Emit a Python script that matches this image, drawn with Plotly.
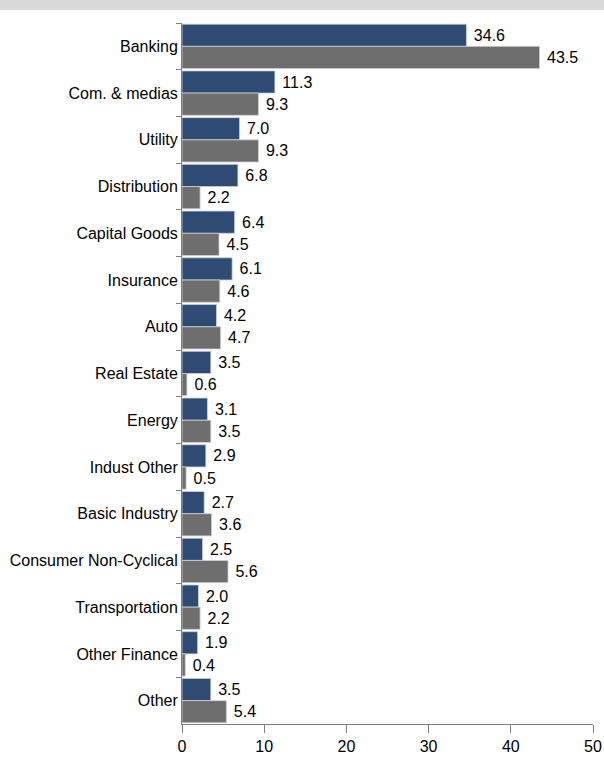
import plotly.graph_objects as go

categories = ["Banking", "Com. & medias", "Utility", "Distribution", "Capital Goods",
              "Insurance", "Auto", "Real Estate", "Energy", "Indust Other",
              "Basic Industry", "Consumer Non-Cyclical", "Transportation",
              "Other Finance", "Other"]
series_a = [34.6, 11.3, 7.0, 6.8, 6.4, 6.1, 4.2, 3.5, 3.1, 2.9, 2.7, 2.5, 2.0, 1.9, 3.5]
series_b = [43.5, 9.3, 9.3, 2.2, 4.5, 4.6, 4.7, 0.6, 3.5, 0.5, 3.6, 5.6, 2.2, 0.4, 5.4]
x_ticks = [0, 10, 20, 30, 40, 50]

font = dict(family="Liberation Sans, Arial, sans-serif", size=16, color="#000000")

fig = go.Figure()
fig.add_trace(go.Bar(
  y=categories, x=series_a, orientation="h",
  marker=dict(color="#2f4b73", line=dict(color="#c8d0dc", width=0.8)),
  text=[f"\u00a0{v:.1f}" for v in series_a], textposition="outside",
  textfont=font, cliponaxis=False, name="A"
))
fig.add_trace(go.Bar(
  y=categories, x=series_b, orientation="h",
  marker=dict(color="#6e6e6e", line=dict(color="#d0d0d0", width=0.8)),
  text=[f"\u00a0{v:.1f}" for v in series_b], textposition="outside",
  textfont=font, cliponaxis=False, name="B"
))

fig.update_layout(
  width=604, height=757,
  margin=dict(l=182, r=11, t=23, b=33),
  paper_bgcolor="white", plot_bgcolor="white",
  barmode="group", bargap=0.05, bargroupgap=0,
  showlegend=False,
  font=font,
  xaxis=dict(
    range=[0, 50], tickvals=x_ticks, ticks="outside", ticklen=8,
    tickcolor="#808080", showline=True, linecolor="#808080", linewidth=1,
    showgrid=False, zeroline=False, automargin=False, tickfont=font
  ),
  yaxis=dict(
    autorange="reversed", ticks="outside", ticklen=5, tickcolor="#808080",
    tickson="boundaries", showline=True, linecolor="#808080", linewidth=1,
    showgrid=False, automargin=False, tickfont=font
  ),
)

# grey band across the top of the page
fig.add_shape(type="rect", xref="paper", yref="paper",
              x0=-1, x1=2, y0=1 + 13 / 701, y1=1 + 24 / 701,
              fillcolor="#d9d9d9", line=dict(width=0), layer="below")

fig.write_html("out.html", config={"displayModeBar": False},
               post_script="document.body.style.margin='0';")
